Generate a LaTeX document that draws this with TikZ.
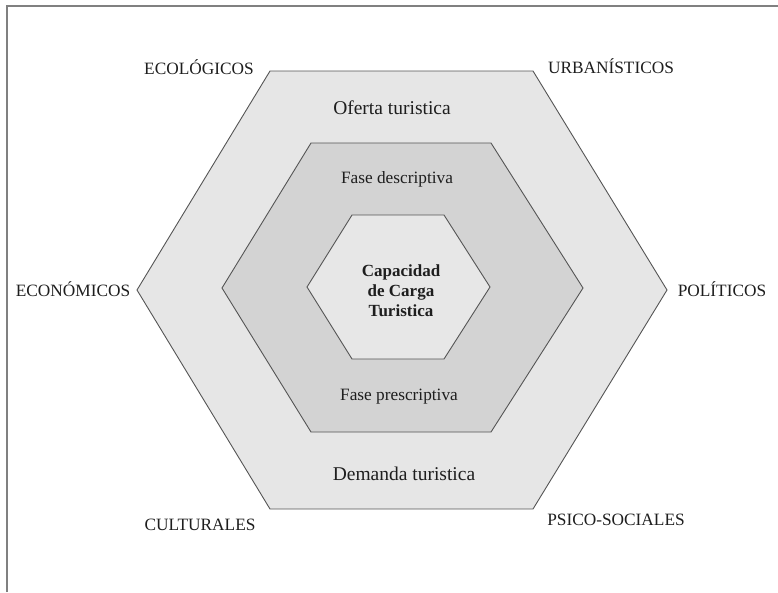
\documentclass[tikz,border=0pt]{standalone}
\usepackage{fontspec}
\setmainfont{Liberation Serif}
\usepackage{xcolor}
\definecolor{hexline}{HTML}{555555}
\definecolor{outerfill}{HTML}{E6E6E6}
\definecolor{midfill}{HTML}{D3D3D3}
\definecolor{innerfill}{HTML}{E7E7E7}
\definecolor{framegray}{HTML}{808080}
\definecolor{txt}{HTML}{1E1E1E}
\tikzset{hexring/.style={draw=hexline,line width=0.9pt,line join=miter},
  factor/.style={anchor=base,text=txt,font=\fontsize{17.3}{20}\selectfont,inner sep=0pt},
  ringlabel/.style={anchor=base,text=txt,font=\fontsize{19.5}{22}\selectfont,inner sep=0pt},
  phase/.style={anchor=base,text=txt,font=\fontsize{17.3}{20}\selectfont,inner sep=0pt}}

\begin{document}
\begin{tikzpicture}[x=1pt,y=-1pt]
\useasboundingbox (0,0) rectangle (778,592);
% frame, cut off at the right and bottom
\coordinate (f1) at (7,592);
\coordinate (f2) at (7,6);
\coordinate (f3) at (778,6);
\draw[framegray,line width=1.3pt] (f1) -- (f2) -- (f3);
% hexagons
\path[hexring,fill=outerfill] (137,290) -- (270,71) -- (533,71) -- (667,290) -- (533,509) -- (270,509) -- cycle;
\path[hexring,fill=midfill] (222,288) -- (311,143) -- (491,143) -- (583,288) -- (491,432) -- (311,432) -- cycle;
\path[hexring,fill=innerfill] (307,287) -- (352,215) -- (444,215) -- (490,287) -- (444,359) -- (352,359) -- cycle;
%
\node (oferta) [ringlabel] at (392,114) {Oferta turistica};
\node (demanda) [ringlabel] at (404,480) {Demanda turistica};
\node (descr) [phase] at (397,183) {Fase descriptiva};
\node (prescr) [phase] at (399,400) {Fase prescriptiva};
\node (ccarga) [align=center,text=txt,font=\fontsize{17}{20}\selectfont\bfseries] at (401,291) {Capacidad\\de Carga\\Turistica};
%
\node (ecol) [factor] at (199,74) {ECOLÓGICOS};
\node (urban) [factor] at (611,73) {URBANÍSTICOS};
\node (econ) [factor] at (73,296) {ECONÓMICOS};
\node (polit) [factor] at (722,296) {POLÍTICOS};
\node (cult) [factor] at (200,530) {CULTURALES};
\node (psico) [factor] at (616,525) {PSICO-SOCIALES};
\end{tikzpicture}
\end{document}
